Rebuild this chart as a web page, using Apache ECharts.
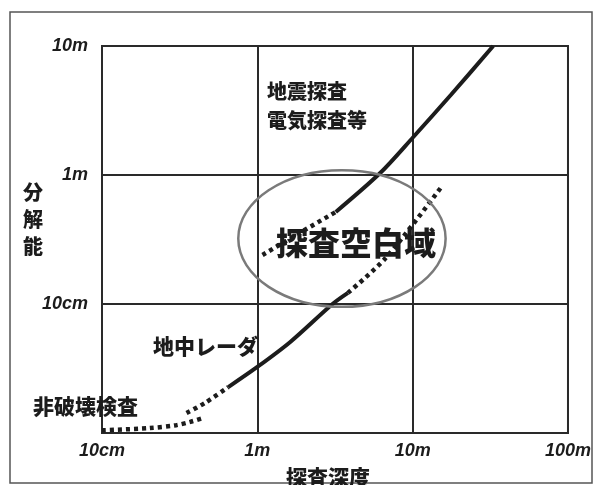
<!DOCTYPE html>
<html>
<head>
<meta charset="utf-8">
<script src="https://cdn.jsdelivr.net/npm/echarts@6/dist/echarts.min.js"></script>
<style>
  html, body { margin: 0; padding: 0; background: #fff; }
  #chart { width: 594px; height: 485px; }
</style>
</head>
<body>
<div id="chart"></div>
<script>
// 目盛ラベル（10のべき乗ごと、単位は m）
const xTickLabels = ['10cm', '1m', '10m', '100m'];   // 0.1, 1, 10, 100
const yTickLabels = ['', '10cm', '1m', '10m'];       // 0.01, 0.1, 1, 10

// 非破壊検査（点線）
const ndtDotted = [[0.1, 0.0105], [0.2, 0.0109], [0.3, 0.0115], [0.37, 0.0122], [0.45, 0.0131]];
// 地中レーダ（点線 → 実線 → 点線）
const gprDottedLow = [[0.35, 0.0143], [0.46, 0.0171], [0.65, 0.0227]];
const gprSolid = [[0.65, 0.0227], [1.0, 0.0325], [1.63, 0.0508], [3.05, 0.1], [3.83, 0.122]];
const gprDottedHigh = [[3.83, 0.122], [6.7, 0.227], [15.1, 0.79]];
// 地震探査・電気探査等（点線 → 実線）
const seisDotted = [[1.08, 0.24], [1.89, 0.358], [3.2, 0.517]];
const seisSolid = [[3.2, 0.517], [6.2, 1.04], [10.1, 1.97], [17.6, 4.17], [33, 10]];
// 探査空白域の楕円（データ座標での外接範囲）
const blankXRange = [0.754, 16.3];
const blankYRange = [0.095, 1.09];

const ink = '#1c1c1c';
const tickFont = {
  color: ink,
  fontFamily: 'Liberation Sans',
  fontStyle: 'italic',
  fontWeight: 'bold',
  fontSize: 18
};
const jpFont = '"Noto Sans CJK JP"';

const lineSeries = (data, dotted) => ({
  type: 'line',
  data: data,
  symbol: 'none',
  smooth: 0.3,
  silent: true,
  z: 5,
  lineStyle: {
    color: ink,
    width: dotted ? 4.5 : 4,
    type: dotted ? [4, 4] : 'solid',
    cap: 'butt'
  }
});

const chart = echarts.init(document.getElementById('chart'), null, { renderer: 'canvas' });

chart.setOption({
  backgroundColor: '#fff',
  animation: false,
  grid: {
    left: 102, right: 26, top: 46, bottom: 52,
    show: true,
    borderColor: '#2a2a2a',
    borderWidth: 2
  },
  xAxis: {
    type: 'log',
    logBase: 10,
    min: 0.1,
    max: 100,
    axisLine: { show: true, lineStyle: { color: '#2a2a2a', width: 2 } },
    axisTick: { show: false },
    minorTick: { show: false },
    splitLine: { show: true, lineStyle: { color: '#2a2a2a', width: 2 } },
    axisLabel: {
      ...tickFont,
      margin: 9,
      formatter: v => xTickLabels[Math.round(Math.log10(v)) + 1] || ''
    }
  },
  yAxis: {
    type: 'log',
    logBase: 10,
    min: 0.01,
    max: 10,
    axisLine: { show: true, lineStyle: { color: '#2a2a2a', width: 2 } },
    axisTick: { show: false },
    minorTick: { show: false },
    splitLine: { show: true, lineStyle: { color: '#2a2a2a', width: 2 } },
    axisLabel: {
      ...tickFont,
      margin: 14,
      formatter: v => yTickLabels[Math.round(Math.log10(v)) + 2] || ''
    }
  },
  series: [
    lineSeries(ndtDotted, true),
    lineSeries(gprDottedLow, true),
    lineSeries(gprSolid, false),
    lineSeries(gprDottedHigh, true),
    lineSeries(seisDotted, true),
    lineSeries(seisSolid, false)
  ]
});

// 楕円はデータ座標から位置を求める
const p1 = chart.convertToPixel({ gridIndex: 0 }, [blankXRange[0], blankYRange[1]]);
const p2 = chart.convertToPixel({ gridIndex: 0 }, [blankXRange[1], blankYRange[0]]);

chart.setOption({
  graphic: [
    {
      // 外枠
      type: 'rect',
      shape: { x: 10, y: 12, width: 582, height: 471 },
      style: { fill: 'none', stroke: '#555', lineWidth: 1.5 },
      z: 1
    },
    {
      type: 'ellipse',
      shape: {
        cx: (p1[0] + p2[0]) / 2,
        cy: (p1[1] + p2[1]) / 2,
        rx: (p2[0] - p1[0]) / 2,
        ry: (p2[1] - p1[1]) / 2
      },
      style: { fill: 'none', stroke: '#7a7a7a', lineWidth: 2.5 },
      z: 6
    },
    {
      type: 'text', x: 267, y: 77, z: 10,
      style: {
        text: '地震探査\n電気探査等', fill: ink,
        font: '900 20px ' + jpFont, lineHeight: 29,
        textAlign: 'left', textVerticalAlign: 'top'
      }
    },
    {
      type: 'text', x: 356, y: 243, z: 10,
      style: {
        text: '探査空白域', fill: ink,
        font: '900 32px ' + jpFont,
        textAlign: 'center', textVerticalAlign: 'middle'
      }
    },
    {
      type: 'text', x: 153, y: 346, z: 10,
      style: {
        text: '地中レーダ', fill: ink,
        font: '900 21px ' + jpFont,
        textAlign: 'left', textVerticalAlign: 'middle'
      }
    },
    {
      type: 'text', x: 33, y: 406, z: 10,
      style: {
        text: '非破壊検査', fill: ink,
        font: '900 21px ' + jpFont,
        textAlign: 'left', textVerticalAlign: 'middle'
      }
    },
    {
      // 縦軸タイトル
      type: 'text', x: 33, y: 179, z: 10,
      style: {
        text: '分\n解\n能', fill: ink,
        font: '900 20px ' + jpFont, lineHeight: 27,
        textAlign: 'center', textVerticalAlign: 'top'
      }
    },
    {
      // 横軸タイトル
      type: 'text', x: 328, y: 477, z: 10,
      style: {
        text: '探査深度', fill: ink,
        font: '900 21px ' + jpFont,
        textAlign: 'center', textVerticalAlign: 'middle'
      }
    }
  ]
});
</script>
</body>
</html>
